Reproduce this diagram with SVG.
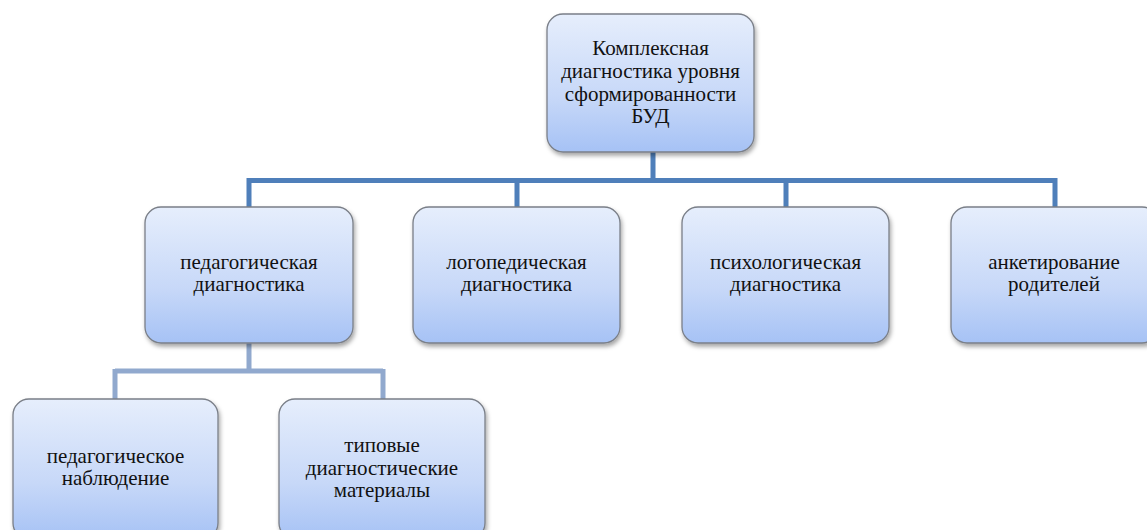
<svg xmlns="http://www.w3.org/2000/svg" width="1147" height="530" viewBox="0 0 1147 530">
<defs>
<linearGradient id="g" x1="0" y1="0" x2="0" y2="1">
<stop offset="0" stop-color="#E6EEFC"/>
<stop offset="0.6" stop-color="#C7D8F8"/>
<stop offset="1" stop-color="#A6C2F5"/>
</linearGradient>
<filter id="sh" x="-10%" y="-10%" width="130%" height="130%">
<feDropShadow dx="1.5" dy="3" stdDeviation="2" flood-color="#000" flood-opacity="0.35"/>
</filter>
<style>
.box{fill:url(#g);stroke:#7A7F88;stroke-width:1.3;filter:url(#sh)}
text{font-family:'Liberation Serif','Times New Roman',serif;font-size:21px;fill:#111;text-anchor:middle}
.c1{fill:none;stroke:#4F7FBA;stroke-width:5}
.c2{fill:none;stroke:#91A9CE;stroke-width:5}
</style>
</defs>
<g id="connectors">
<path class="c1" d="M653,152 V180.5 M249,180.5 H1055 M249,178 V207 M517,178 V207 M786,178 V207 M1055,178 V207"/>
<path class="c2" d="M249,343 V371 M115,371 H383 M115,369 V399 M383,369 V399"/>
</g>
<g id="root">
<rect class="box" x="547" y="14" width="207" height="138" rx="16"/>
<text x="650.5" y="55">Комплексная</text>
<text x="650.5" y="78">диагностика уровня</text>
<text x="650.5" y="101">сформированности</text>
<text x="650.5" y="123">БУД</text>
</g>
<g id="n1">
<rect class="box" x="145" y="207" width="208" height="136" rx="16"/>
<text x="249" y="269">педагогическая</text>
<text x="249" y="291">диагностика</text>
</g>
<g id="n2">
<rect class="box" x="413" y="207" width="207" height="136" rx="16"/>
<text x="516.5" y="269">логопедическая</text>
<text x="516.5" y="291">диагностика</text>
</g>
<g id="n3">
<rect class="box" x="682" y="207" width="207" height="136" rx="16"/>
<text x="785.5" y="269">психологическая</text>
<text x="785.5" y="291">диагностика</text>
</g>
<g id="n4">
<rect class="box" x="951" y="207" width="207" height="136" rx="16"/>
<text x="1054" y="269">анкетирование</text>
<text x="1054" y="291">родителей</text>
</g>
<g id="n5">
<rect class="box" x="13" y="399" width="205" height="140" rx="16"/>
<text x="115.5" y="463">педагогическое</text>
<text x="115.5" y="485">наблюдение</text>
</g>
<g id="n6">
<rect class="box" x="279" y="399" width="206" height="140" rx="16"/>
<text x="382" y="452">типовые</text>
<text x="382" y="475">диагностические</text>
<text x="382" y="497">материалы</text>
</g>
</svg>
